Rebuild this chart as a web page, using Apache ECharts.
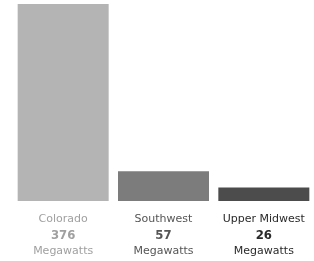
<!DOCTYPE html>
<html>
<head>
<meta charset="utf-8">
<script src="https://cdn.jsdelivr.net/npm/echarts@6/dist/echarts.min.js"></script>
<style>
  html, body { margin: 0; padding: 0; background: #fff; }
  #chart { width: 314px; height: 261px; }
</style>
</head>
<body>
<div id="chart"></div>
<script>
// wind capacity by region
var regions = ['Colorado', 'Southwest', 'Upper Midwest'];
var megawatts = [376, 57, 26];
var unitLabel = 'Megawatts';

var barColors = ['#b4b4b4', '#7c7c7c', '#4c4c4c'];
var labelColors = ['#a0a0a0', '#555555', '#2a2a2a'];

var chart = echarts.init(document.getElementById('chart'));

var rich = {};
regions.forEach(function (r, i) {
  rich['n' + i] = { fontSize: 11, lineHeight: 16, color: labelColors[i], fontFamily: 'DejaVu Sans' };
  rich['v' + i] = { fontSize: 13, fontWeight: 'bold', lineHeight: 17, color: labelColors[i], fontFamily: 'DejaVu Sans Condensed' };
  rich['m' + i] = { fontSize: 11, lineHeight: 15, color: labelColors[i], fontFamily: 'DejaVu Sans' };
});

var option = {
  animation: false,
  grid: {
    left: 13,
    right: -2,
    top: 4,
    bottom: 60
  },
  xAxis: {
    type: 'category',
    data: regions,
    axisLine: { show: false },
    axisTick: { show: false },
    axisLabel: {
      interval: 0,
      margin: 10,
      formatter: function (value, index) {
        return '{n' + index + '|' + value + '}\n{v' + index + '|' + megawatts[index] + '}\n{m' + index + '|' + unitLabel + '}';
      },
      rich: rich
    }
  },
  yAxis: {
    type: 'value',
    show: false,
    min: 0,
    max: 376
  },
  series: [{
    type: 'bar',
    barWidth: 91,
    data: megawatts.map(function (v, i) {
      return { value: v, itemStyle: { color: barColors[i] } };
    })
  }]
};
chart.setOption(option);
</script>
</body>
</html>
